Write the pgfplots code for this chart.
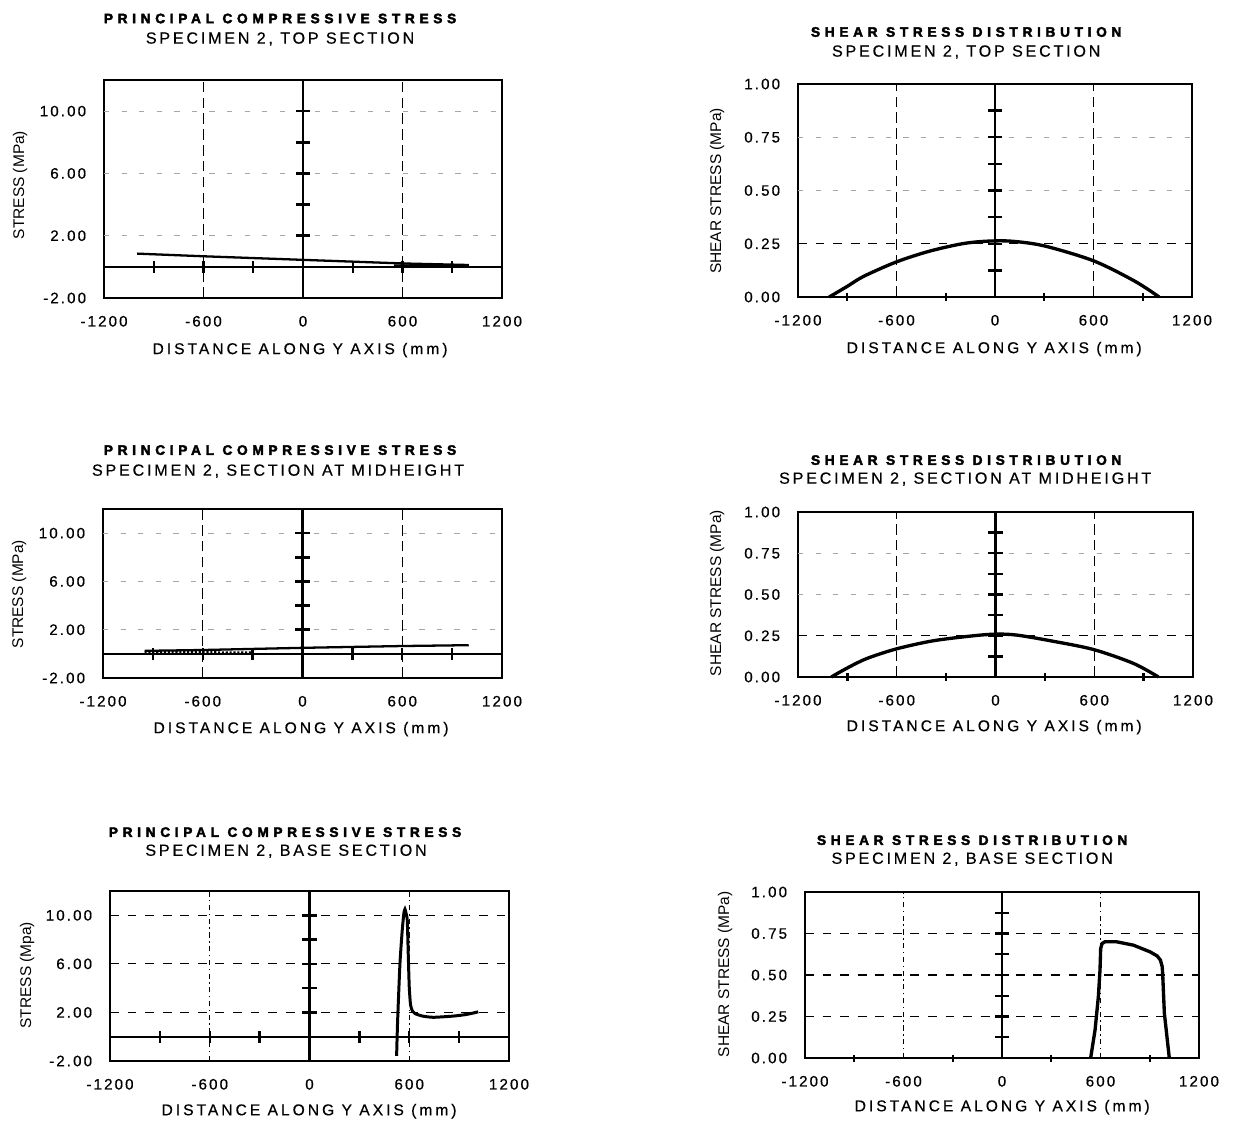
\documentclass[border=0pt]{standalone}
\usepackage{fontspec}
\usepackage{pgfplots}
\pgfplotsset{compat=1.18}
\setmainfont{Liberation Sans}
\newfontfamily\tickfont[LetterSpace=14,FakeBold=0.6]{Liberation Sans}
\newfontfamily\labfont[LetterSpace=19,FakeBold=0.4]{Liberation Sans}
\newfontfamily\subfont[LetterSpace=17,FakeBold=0.4]{Liberation Sans}
\newfontfamily\ttlfont[LetterSpace=34,FakeBold=2.8]{Liberation Sans Bold}

\tikzset{
  vdash/.style={line width=0.7pt, dash pattern=on 6pt off 3pt},
  hdash/.style={line width=0.7pt, dash pattern=on 5pt off 5pt},
  faint/.style={line width=0.4pt, gray!70, dash pattern=on 3pt off 7pt},
  dashdot/.style={line width=0.5pt, dash pattern=on 3pt off 2pt on 0.8pt off 2pt},
  cax/.style={line width=1.2pt},
}
\pgfplotsset{
  panel/.style={scale only axis, anchor=north west, clip=false,
    axis line style={line width=1.5pt},
    xmin=-1200, xmax=1200,
    xtick={-1200,-600,0,600,1200}, xticklabels={-1200,-600,0,600,1200},
    major tick length=0pt, tick style={draw=none},
    ticklabel style={font=\tickfont\fontsize{8.6}{9}\selectfont, inner sep=0pt},
    xticklabel style={yshift=-10pt},
    yticklabel style={xshift=-10pt}},
  comp/.style={panel, ymin=-2, ymax=12, ytick={-2,2,6,10},
    yticklabels={-2.00,2.00,6.00,10.00}},
  shear/.style={panel, ymin=0, ymax=1, ytick={0,0.25,0.5,0.75,1},
    yticklabels={0.00,0.25,0.50,0.75,1.00}},
  ytk/.style={only marks, mark=-, mark size=4.2pt, mark options={line width=1.4pt}},
  xtk/.style={only marks, mark=|, mark size=3.3pt, mark options={line width=1.3pt}},
}

\begin{document}
\begin{tikzpicture}
\useasboundingbox (0,0) rectangle (24.76cm,-22.42cm);

% ---- top left: principal compressive stress, top section
\begin{axis}[comp, at={(2.08cm,-1.60cm)}, width=7.96cm, height=4.36cm]
  \draw[faint] (axis cs:-1200,10) -- (axis cs:1200,10);
  \draw[faint] (axis cs:-1200,6) -- (axis cs:1200,6);
  \draw[faint] (axis cs:-1200,2) -- (axis cs:1200,2);
  \draw[vdash] (axis cs:-600,-2) -- (axis cs:-600,12);
  \draw[vdash] (axis cs:600,-2) -- (axis cs:600,12);
  \draw[cax] (axis cs:0,-2) -- (axis cs:0,12);
  \draw[cax] (axis cs:-1200,0) -- (axis cs:1200,0);
  \addplot[ytk] coordinates {(0,2) (0,4) (0,6) (0,8) (0,10)};
  \addplot[xtk] coordinates {(-900,0) (-600,0) (-300,0) (300,0) (600,0) (900,0)};
  \addplot[line width=1.3pt] coordinates {(-1000,0.85) (-600,0.68) (0,0.45) (600,0.22) (1000,0.12)};
  \addplot[line width=1.2pt] coordinates {(550,0.1) (1000,0.05)};
\end{axis}

% ---- top right: shear stress, top section
\begin{axis}[shear, at={(15.96cm,-1.68cm)}, width=7.88cm, height=4.26cm]
  \draw[faint] (axis cs:-1200,0.75) -- (axis cs:1200,0.75);
  \draw[faint] (axis cs:-1200,0.5) -- (axis cs:1200,0.5);
  \draw[hdash] (axis cs:-1200,0.25) -- (axis cs:1200,0.25);
  \draw[vdash] (axis cs:-600,0) -- (axis cs:-600,1);
  \draw[vdash] (axis cs:600,0) -- (axis cs:600,1);
  \draw[cax] (axis cs:0,0) -- (axis cs:0,1);
  \addplot[ytk] coordinates {(0,0.125) (0,0.25) (0,0.375) (0,0.5) (0,0.625) (0,0.75) (0,0.875)};
  \addplot[xtk, mark size=2pt] coordinates {(-900,0) (-300,0) (300,0) (900,0)};
  \addplot[line width=1.9pt, smooth] coordinates {(-1010,0) (-900,0.05) (-800,0.097) (-600,0.165) (-400,0.215) (-200,0.25) (-50,0.262) (100,0.262) (300,0.24) (600,0.17) (850,0.075) (1000,0)};
\end{axis}

% ---- middle left: principal compressive stress, midheight
\begin{axis}[comp, at={(2.06cm,-10.18cm)}, width=7.98cm, height=3.38cm]
  \draw[faint] (axis cs:-1200,10) -- (axis cs:1200,10);
  \draw[faint] (axis cs:-1200,6) -- (axis cs:1200,6);
  \draw[faint] (axis cs:-1200,2) -- (axis cs:1200,2);
  \draw[vdash] (axis cs:-600,-2) -- (axis cs:-600,12);
  \draw[vdash] (axis cs:600,-2) -- (axis cs:600,12);
  \draw[cax] (axis cs:0,-2) -- (axis cs:0,12);
  \draw[cax] (axis cs:-1200,0) -- (axis cs:1200,0);
  \addplot[ytk] coordinates {(0,2) (0,4) (0,6) (0,8) (0,10)};
  \addplot[xtk] coordinates {(-900,0) (-600,0) (-300,0) (300,0) (600,0) (900,0)};
  \addplot[line width=1.3pt] coordinates {(-950,0.25) (-600,0.32) (0,0.5) (600,0.65) (1000,0.72)};
  \addplot[line width=1.2pt, densely dotted] coordinates {(-950,0.15) (-300,0.12)};
\end{axis}

% ---- middle right: shear stress, midheight
\begin{axis}[shear, at={(15.96cm,-10.24cm)}, width=7.90cm, height=3.30cm]
  \draw[faint] (axis cs:-1200,0.75) -- (axis cs:1200,0.75);
  \draw[faint] (axis cs:-1200,0.5) -- (axis cs:1200,0.5);
  \draw[hdash] (axis cs:-1200,0.25) -- (axis cs:1200,0.25);
  \draw[vdash] (axis cs:-600,0) -- (axis cs:-600,1);
  \draw[vdash] (axis cs:600,0) -- (axis cs:600,1);
  \draw[cax] (axis cs:0,0) -- (axis cs:0,1);
  \addplot[ytk] coordinates {(0,0.125) (0,0.25) (0,0.375) (0,0.5) (0,0.625) (0,0.75) (0,0.875)};
  \addplot[xtk, mark size=2pt] coordinates {(-900,0) (-300,0) (300,0) (900,0)};
  \addplot[line width=1.9pt, smooth] coordinates {(-998,0) (-900,0.055) (-782,0.112) (-600,0.171) (-376,0.22) (-133,0.25) (7,0.26) (130,0.254) (332,0.22) (594,0.167) (837,0.083) (990,0)};
\end{axis}

% ---- bottom left: principal compressive stress, base
\begin{axis}[comp, at={(2.20cm,-17.82cm)}, width=7.98cm, height=3.40cm]
  \draw[hdash] (axis cs:-1200,10) -- (axis cs:1200,10);
  \draw[hdash] (axis cs:-1200,6) -- (axis cs:1200,6);
  \draw[hdash] (axis cs:-1200,2) -- (axis cs:1200,2);
  \draw[dashdot] (axis cs:-600,-2) -- (axis cs:-600,12);
  \draw[dashdot] (axis cs:600,-2) -- (axis cs:600,12);
  \draw[cax] (axis cs:0,-2) -- (axis cs:0,12);
  \draw[cax] (axis cs:-1200,0) -- (axis cs:1200,0);
  \addplot[ytk] coordinates {(0,2) (0,4) (0,6) (0,8) (0,10)};
  \addplot[xtk] coordinates {(-900,0) (-600,0) (-300,0) (300,0) (600,0) (900,0)};
  \addplot[line width=1.7pt, smooth, tension=0.35] coordinates {(524,-1.57) (530,1.3) (544,6.0) (558,8.8) (568,10.2) (574,10.5) (580,10.2) (588,9.6) (594,6.8) (600,4.1) (608,2.6) (620,2.1) (635,1.9) (680,1.7) (745,1.6) (865,1.7) (947,1.84) (1015,2.05)};
\end{axis}

% ---- bottom right: shear stress, base
\begin{axis}[shear, at={(16.10cm,-17.84cm)}, width=7.88cm, height=3.32cm]
  \draw[hdash] (axis cs:-1200,0.75) -- (axis cs:1200,0.75);
  \draw[hdash] (axis cs:-1200,0.5) -- (axis cs:1200,0.5);
  \draw[hdash] (axis cs:-1200,0.25) -- (axis cs:1200,0.25);
  \draw[dashdot] (axis cs:-600,0) -- (axis cs:-600,1);
  \draw[dashdot] (axis cs:600,0) -- (axis cs:600,1);
  \draw[cax] (axis cs:0,0) -- (axis cs:0,1);
  \addplot[ytk] coordinates {(0,0.125) (0,0.25) (0,0.375) (0,0.5) (0,0.625) (0,0.75) (0,0.875)};
  \addplot[xtk, mark size=2pt] coordinates {(-900,0) (-300,0) (300,0) (900,0)};
  \addplot[line width=1.9pt] coordinates {(540,0) (567,0.17) (587,0.37) (597,0.53) (601,0.66) (610,0.69) (627,0.70) (699,0.70) (800,0.68) (901,0.64) (945,0.615) (965,0.59) (976,0.55) (979,0.50) (989,0.27) (1019,0)};
\end{axis}

% ---- titles and axis labels
\begin{scope}[x=0.02cm, y=-0.02cm]
  \def\ttl{\ttlfont\fontsize{7.8}{8}\selectfont}
  \def\sub{\subfont\fontsize{9.2}{10}\selectfont}
  \def\xl{\labfont\fontsize{8.9}{10}\selectfont}
  \def\yl{\fontsize{8.8}{10}\selectfont}
  \node[font=\ttl] at (280,18.5) {PRINCIPAL COMPRESSIVE STRESS};
  \node[font=\sub] at (280,39) {SPECIMEN 2, TOP SECTION};
  \node[font=\yl, rotate=90] at (20,185) {STRESS (MPa)};
  \node[font=\xl] at (300,350) {DISTANCE ALONG Y AXIS (mm)};

  \node[font=\ttl] at (966,32) {SHEAR STRESS DISTRIBUTION};
  \node[font=\sub] at (966,52) {SPECIMEN 2, TOP SECTION};
  \node[font=\yl, rotate=90] at (717,191) {SHEAR STRESS (MPa)};
  \node[font=\xl] at (994,349) {DISTANCE ALONG Y AXIS (mm)};

  \node[font=\ttl] at (280,450) {PRINCIPAL COMPRESSIVE STRESS};
  \node[font=\sub] at (278,471) {SPECIMEN 2, SECTION AT MIDHEIGHT};
  \node[font=\yl, rotate=90] at (19,594) {STRESS (MPa)};
  \node[font=\xl] at (301,729) {DISTANCE ALONG Y AXIS (mm)};

  \node[font=\ttl] at (966,460) {SHEAR STRESS DISTRIBUTION};
  \node[font=\sub] at (965,479) {SPECIMEN 2, SECTION AT MIDHEIGHT};
  \node[font=\yl, rotate=90] at (717,593) {SHEAR STRESS (MPa)};
  \node[font=\xl] at (994,727) {DISTANCE ALONG Y AXIS (mm)};

  \node[font=\ttl] at (285,832) {PRINCIPAL COMPRESSIVE STRESS};
  \node[font=\sub] at (286,851) {SPECIMEN 2, BASE SECTION};
  \node[font=\yl, rotate=90] at (27,975) {STRESS (Mpa)};
  \node[font=\xl] at (309,1111) {DISTANCE ALONG Y AXIS (mm)};

  \node[font=\ttl] at (972,840) {SHEAR STRESS DISTRIBUTION};
  \node[font=\sub] at (972,859) {SPECIMEN 2, BASE SECTION};
  \node[font=\yl, rotate=90] at (725,974) {SHEAR STRESS (MPa)};
  \node[font=\xl] at (1002,1107) {DISTANCE ALONG Y AXIS (mm)};
\end{scope}
\end{tikzpicture}
\end{document}
